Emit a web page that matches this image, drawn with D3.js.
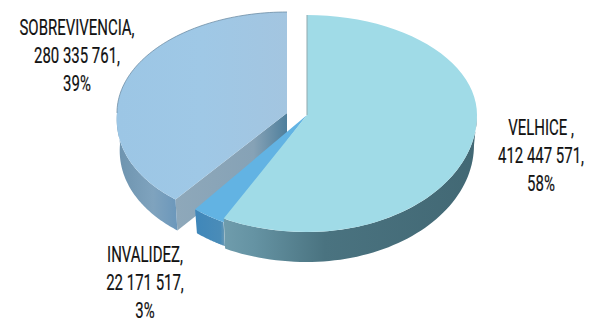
<!DOCTYPE html>
<html><head><meta charset="utf-8">
<script src="https://cdn.jsdelivr.net/npm/d3@7/dist/d3.min.js"></script>
<style>html,body{margin:0;background:#fff}svg{display:block}text{font-family:"Roboto",sans-serif;fill:#111;stroke:#111;stroke-width:0.2}</style>
</head><body><svg id="c" width="589" height="320"></svg>
<script>
const categories = ["VELHICE ,", "INVALIDEZ,", "SOBREVIVENCIA,"];
const values = [412447571, 22171517, 280335761];
const valueLabels = ["412 447 571,", "22 171 517,", "280 335 761,"];
const percents = ["58%", "3%", "39%"];
const topColors = ["#a0dbe7", "#62b3e3", "#a0c7e4"];

const svg = d3.select("#c");
const defs = svg.append("defs");
function grad(id, stops){
  const g = defs.append("linearGradient").attr("id",id).attr("x1",0).attr("y1",0).attr("x2",1).attr("y2",0);
  stops.forEach(s=>g.append("stop").attr("offset",s[0]).attr("stop-color",s[1]));
}
grad("wallV",[[0,"#6f9cac"],[0.12,"#6593a3"],[0.4,"#4a7380"],[1,"#426874"]]);
grad("wallI",[[0,"#3f87ba"],[0.85,"#4a8cb8"],[1,"#6a9ab5"]]);
grad("wallS",[[0,"#6d93ae"],[0.6,"#7fa3be"],[1,"#6b97bb"]]);
grad("cutS",[[0,"#8ea8ba"],[0.7,"#86a2b6"],[1,"#4f7f9c"]]);
grad("topS",[[0,"#9cc6e5"],[0.5,"#9fc8e6"],[1,"#a3c5e0"]]);

const pie = d3.pie().sort(null).value(d=>d);
const arcs = pie(values);

const geom = [
  {cx:307, cy:115, rx:170, rb:100, rf:117, depth:30, shrink:3},
  {cx:307, cy:115, rx:170, rb:100, rf:121, depth:24, shrink:3},
  {cx:287, cy:113, rx:170, rb:101, rf:111, depth:31, shrink:3}
];
const shear=0.09;
function rim(g,a,down=0){
  const s=Math.sin(a), c=Math.cos(a);
  const rx=g.rx-(down?g.shrink:0);
  const ry=c>0?g.rb:g.rf;
  const dy=-ry*c;
  const sh=dy>0&&s<0?shear*dy*s:0;
  return [g.cx+rx*s+sh, g.cy+dy+down];
}
const angles=(a0,a1)=>d3.range(0,61).map(i=>a0+(a1-a0)*i/60);
const line=d3.line();
function topPath(i){
  const g=geom[i],a=arcs[i];
  return line([[g.cx,g.cy],...angles(a.startAngle,a.endAngle).map(t=>rim(g,t))])+"Z";
}
function wallPath(i,a0,a1){
  const g=geom[i];
  const up=angles(a0,a1).map(t=>rim(g,t));
  const dn=angles(a0,a1).map(t=>rim(g,t,g.depth)).reverse();
  return line([...up,...dn])+"Z";
}
function cutPath(i){
  const g=geom[i],a=arcs[i];
  const t=rim(g,a.startAngle), b=rim(g,a.startAngle,g.depth);
  return line([[g.cx,g.cy],t,b,[g.cx,g.cy+g.depth]])+"Z";
}
const pi=Math.PI;
svg.append("path").attr("d",cutPath(2)).attr("fill","url(#cutS)");
svg.append("path").attr("d",wallPath(2,arcs[2].startAngle,1.5*pi)).attr("fill","url(#wallS)");
svg.append("path").attr("d",topPath(2)).attr("fill","url(#topS)");
svg.append("path").attr("d",line(angles(1.5*pi,2*pi).map(t=>rim(geom[2],t)))).attr("fill","none").attr("stroke","#6f8ea6").attr("stroke-width",0.8);
svg.append("path").attr("d",wallPath(1,arcs[1].startAngle,arcs[1].endAngle)).attr("fill","url(#wallI)");
svg.append("path").attr("d",topPath(1)).attr("fill",topColors[1]);
svg.append("path").attr("d",wallPath(0,pi/2,arcs[0].endAngle)).attr("fill","url(#wallV)");
svg.append("path").attr("d",topPath(0)).attr("fill",topColors[0]);
svg.append("path").attr("d",line([[geom[0].cx,geom[0].cy],rim(geom[0],0)])).attr("stroke","#8fa9ae").attr("stroke-width",1);

const labelPos=[[541,135],[145,262],[77,35]];
const lineGap=28, sx=0.68;
categories.forEach((c,i)=>{
  [c,valueLabels[i],percents[i]].forEach((t,j)=>{
    svg.append("text")
      .attr("transform",`translate(${labelPos[i][0]},${labelPos[i][1]+j*lineGap}) scale(${sx},1)`)
      .attr("text-anchor","middle").attr("font-size",22).text(t);
  });
});
</script></body></html>
